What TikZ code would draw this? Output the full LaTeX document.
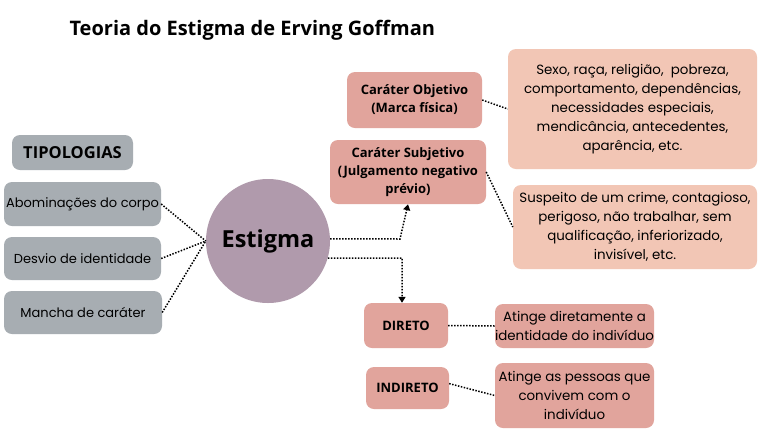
\documentclass[tikz,border=0pt]{standalone}
\usepackage{fontspec}
\setmainfont{Poppins}
\newfontfamily\boldf{Open Sans}
\usetikzlibrary{arrows.meta}
\definecolor{greybox}{RGB}{167,173,178}
\definecolor{circ}{RGB}{176,154,172}
\definecolor{rose}{RGB}{225,164,156}
\definecolor{peach}{RGB}{242,198,181}
\tikzset{
  box/.style={rounded corners=8pt, inner sep=0pt, align=center},
  grey/.style={box, fill=greybox},
  rosebox/.style={box, fill=rose},
  peachbox/.style={box, fill=peach},
  body/.style={font=\fontsize{13}{18}\selectfont},
  bigbody/.style={font=\fontsize{13.4}{19}\selectfont},
  lbl/.style={font=\boldf\bfseries\fontsize{13}{18}\selectfont},
  dots/.style={line width=1.5pt, dash pattern=on 1.5pt off 1.5pt, black},
  dotarrow/.style={dots, -{Triangle[width=7pt,length=6pt]}},
}
\begin{document}
\begin{tikzpicture}[x=1pt,y=-1pt]
\useasboundingbox (0,0) rectangle (768,432);
\fill[white] (0,0) rectangle (768,432);
\node[anchor=west, font=\boldf\bfseries\fontsize{20}{22}\selectfont] (title) at (66,30) {Teoria do Estigma de Erving Goffman};

\node[grey, minimum width=121pt, minimum height=35pt, font=\boldf\bfseries\fontsize{16.5}{18}\selectfont] (tipo) at (72.5,152.5) {TIPOLOGIAS};
\node[grey, body, minimum width=157pt, minimum height=44pt] (abom) at (82.5,204) {Abominações do corpo};
\node[grey, body, minimum width=157pt, minimum height=43pt] (desvio) at (82.5,258.5) {Desvio de identidade};
\node[grey, body, minimum width=158pt, minimum height=43pt] (mancha) at (83,312.5) {Mancha de caráter};

\node[circle, fill=circ, minimum size=124pt, inner sep=0pt, font=\boldf\bfseries\fontsize{23.5}{26}\selectfont] (estigma) at (268,241) {Estigma};

\node[rosebox, lbl, minimum width=135pt, minimum height=56pt] (obj) at (414.5,100) {Caráter Objetivo\\(Marca física)};
\node[peachbox, bigbody, minimum width=249pt, minimum height=120pt] (sexo) at (632.5,109) {Sexo, raça, religião,\ \ pobreza,\\comportamento, dependências,\\necessidades especiais,\\mendicância, antecedentes,\\aparência, etc.};
\node[rosebox, lbl, minimum width=156pt, minimum height=64pt] (subj) at (408,172) {Caráter Subjetivo\\(Julgamento negativo\\prévio)};
\node[peachbox, bigbody, minimum width=244pt, minimum height=84pt] (susp) at (635,227) {Suspeito de um crime, contagioso,\\perigoso, não trabalhar, sem\\qualificação, inferiorizado,\\invisível, etc.};

\node[rosebox, lbl, minimum width=84pt, minimum height=45pt] (direto) at (406,325.5) {DIRETO};
\node[rosebox, bigbody, minimum width=159pt, minimum height=44pt] (at1) at (574.5,326) {Atinge diretamente a\\identidade do indivíduo};
\node[rosebox, lbl, minimum width=83pt, minimum height=42pt] (indireto) at (407.5,388) {INDIRETO};
\node[rosebox, bigbody, minimum width=159pt, minimum height=65pt] (at2) at (574.5,395.5) {Atinge as pessoas que\\convivem com o\\indivíduo};

\coordinate (c1) at (400,239);
\coordinate (c2) at (402,258);

\draw[dots] (abom.east) -- (estigma.west);
\draw[dots] (desvio.east) -- (estigma.west);
\draw[dots] (mancha.east) -- (estigma.west);
\draw[dotarrow] (estigma.2) -- (c1) -- (subj.south);
\draw[dotarrow] (estigma.-16) -- (c2) -- (c2 |- direto.north);
\draw[dots] (obj.east) -- (sexo.west);
\draw[dots] (subj.east) -- (susp.west);
\draw[dots] (direto.east) -- (at1.west);
\draw[dots] (indireto.6) -- (at2.west);
\end{tikzpicture}
\end{document}
